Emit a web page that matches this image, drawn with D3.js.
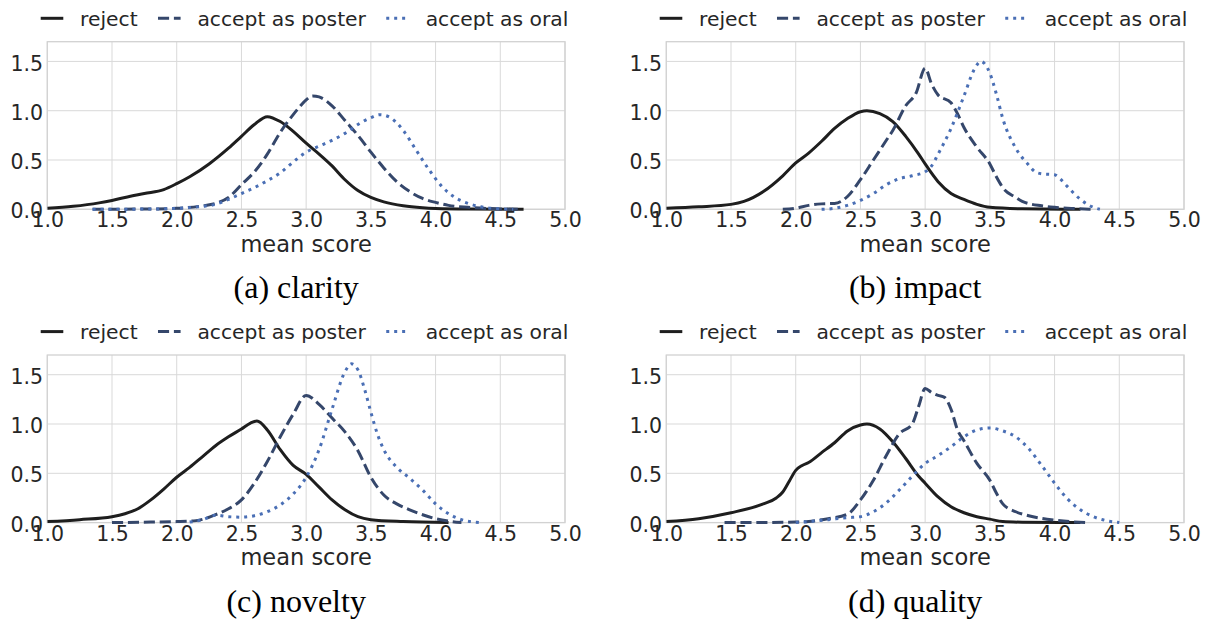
<!DOCTYPE html>
<html>
<head>
<meta charset="utf-8">
<script src="https://cdn.jsdelivr.net/npm/d3@7"></script>
<style>
  html, body { margin: 0; padding: 0; background: #ffffff; }
  svg { display: block; }
</style>
</head>
<body>
<svg id="fig" width="1208" height="622"></svg>
<script>
// ---- data: kernel density of mean review score per decision, for four aspects ----
const seriesNames = ["reject", "accept as poster", "accept as oral"];
const panelTitles = ["(a) clarity", "(b) impact", "(c) novelty", "(d) quality"];
const xTicks = [1.0, 1.5, 2.0, 2.5, 3.0, 3.5, 4.0, 4.5, 5.0];
const yTicks = [0.0, 0.5, 1.0, 1.5];
const xDomain = [1.0, 5.0];
const yDomain = [0, 1.7];

const clarityReject = [[1.0,0.01],[1.2,0.03],[1.4,0.065],[1.5,0.09],[1.6,0.12],[1.75,0.16],[1.9,0.2],[2.0,0.26],[2.1,0.33],[2.25,0.46],[2.4,0.62],[2.5,0.74],[2.6,0.86],[2.7,0.94],[2.8,0.89],[2.9,0.79],[3.0,0.67],[3.1,0.56],[3.2,0.44],[3.3,0.3],[3.4,0.19],[3.5,0.12],[3.6,0.075],[3.75,0.035],[3.9,0.015],[4.0,0.008],[4.25,0.002],[4.68,0]];
const clarityPoster = [[1.35,0],[1.7,0.002],[2.0,0.01],[2.2,0.035],[2.3,0.06],[2.4,0.12],[2.5,0.25],[2.6,0.38],[2.67,0.5],[2.7,0.56],[2.8,0.78],[2.9,0.96],[2.95,1.04],[3.0,1.11],[3.05,1.15],[3.1,1.14],[3.2,1.05],[3.3,0.9],[3.4,0.75],[3.5,0.58],[3.6,0.42],[3.7,0.28],[3.8,0.18],[3.9,0.11],[4.0,0.07],[4.1,0.04],[4.25,0.02],[4.5,0.004],[4.65,0]];
const clarityOral = [[1.35,0],[1.8,0.003],[2.0,0.01],[2.2,0.03],[2.3,0.05],[2.4,0.1],[2.5,0.16],[2.6,0.22],[2.7,0.29],[2.8,0.37],[2.9,0.48],[3.0,0.58],[3.1,0.64],[3.2,0.7],[3.3,0.77],[3.4,0.86],[3.5,0.93],[3.57,0.96],[3.65,0.93],[3.75,0.8],[3.85,0.6],[3.95,0.4],[4.05,0.23],[4.15,0.12],[4.25,0.06],[4.35,0.025],[4.5,0.005],[4.6,0]];

const impactReject = [[1.0,0.01],[1.25,0.025],[1.5,0.05],[1.6,0.08],[1.75,0.18],[1.9,0.34],[2.0,0.47],[2.1,0.57],[2.2,0.69],[2.3,0.82],[2.4,0.92],[2.5,0.99],[2.55,1.0],[2.65,0.97],[2.75,0.89],[2.85,0.74],[2.95,0.56],[3.0,0.46],[3.1,0.28],[3.2,0.16],[3.3,0.1],[3.4,0.05],[3.5,0.02],[3.75,0.005],[4.2,0]];
const impactPoster = [[1.9,0],[2.0,0.01],[2.1,0.04],[2.2,0.055],[2.3,0.06],[2.35,0.08],[2.4,0.13],[2.5,0.3],[2.6,0.5],[2.7,0.7],[2.75,0.8],[2.85,1.05],[2.93,1.18],[3.0,1.43],[3.05,1.27],[3.1,1.16],[3.2,1.08],[3.25,0.97],[3.3,0.83],[3.4,0.63],[3.5,0.46],[3.55,0.33],[3.6,0.22],[3.7,0.12],[3.75,0.08],[3.9,0.035],[4.0,0.02],[4.15,0.008],[4.3,0]];
const impactOral = [[2.2,0],[2.3,0.01],[2.4,0.04],[2.5,0.09],[2.6,0.16],[2.7,0.25],[2.8,0.31],[2.9,0.34],[3.0,0.38],[3.05,0.44],[3.1,0.56],[3.2,0.82],[3.3,1.15],[3.38,1.42],[3.43,1.5],[3.5,1.38],[3.55,1.17],[3.6,0.92],[3.7,0.62],[3.8,0.45],[3.85,0.38],[3.9,0.36],[4.0,0.35],[4.05,0.3],[4.1,0.23],[4.2,0.1],[4.3,0.02],[4.35,0]];

const noveltyReject = [[1.0,0.01],[1.25,0.03],[1.5,0.06],[1.6,0.09],[1.7,0.14],[1.8,0.23],[1.9,0.34],[2.0,0.46],[2.1,0.56],[2.2,0.67],[2.3,0.78],[2.4,0.87],[2.5,0.95],[2.57,1.01],[2.62,1.03],[2.7,0.94],[2.8,0.74],[2.9,0.58],[3.0,0.49],[3.1,0.36],[3.2,0.23],[3.3,0.13],[3.4,0.06],[3.5,0.03],[3.75,0.01],[4.1,0]];
const noveltyPoster = [[1.5,0],[1.8,0.005],[2.0,0.01],[2.15,0.02],[2.3,0.08],[2.4,0.14],[2.5,0.23],[2.6,0.4],[2.7,0.62],[2.8,0.87],[2.9,1.1],[3.0,1.29],[3.1,1.2],[3.2,1.06],[3.3,0.92],[3.4,0.73],[3.5,0.46],[3.6,0.28],[3.7,0.19],[3.8,0.13],[3.9,0.08],[4.0,0.04],[4.1,0.015],[4.2,0]];
const noveltyOral = [[2.1,0.005],[2.2,0.03],[2.3,0.075],[2.4,0.06],[2.5,0.055],[2.6,0.07],[2.7,0.11],[2.8,0.18],[2.9,0.29],[3.0,0.46],[3.1,0.74],[3.2,1.15],[3.3,1.53],[3.35,1.61],[3.4,1.55],[3.45,1.36],[3.5,1.12],[3.55,0.9],[3.6,0.74],[3.7,0.56],[3.8,0.45],[3.9,0.33],[4.0,0.19],[4.1,0.09],[4.2,0.03],[4.35,0]];

const qualityReject = [[1.0,0.01],[1.25,0.04],[1.5,0.1],[1.75,0.19],[1.85,0.25],[1.9,0.31],[1.95,0.42],[2.0,0.53],[2.05,0.58],[2.1,0.61],[2.2,0.71],[2.3,0.81],[2.4,0.93],[2.5,0.99],[2.55,1.0],[2.65,0.95],[2.75,0.82],[2.85,0.65],[2.95,0.47],[3.0,0.4],[3.1,0.26],[3.2,0.16],[3.3,0.1],[3.4,0.06],[3.5,0.035],[3.6,0.01],[3.75,0.004],[4.2,0]];
const qualityPoster = [[1.45,0],[1.8,0.002],[2.0,0.005],[2.1,0.012],[2.25,0.04],[2.4,0.085],[2.5,0.23],[2.6,0.43],[2.7,0.68],[2.8,0.9],[2.9,1.0],[2.95,1.18],[3.0,1.36],[3.05,1.32],[3.1,1.29],[3.15,1.27],[3.2,1.15],[3.25,0.94],[3.3,0.83],[3.4,0.6],[3.5,0.43],[3.55,0.3],[3.6,0.19],[3.7,0.11],[3.8,0.07],[4.0,0.025],[4.25,0]];
const qualityOral = [[2.0,0],[2.25,0.03],[2.4,0.05],[2.5,0.06],[2.6,0.11],[2.7,0.2],[2.8,0.33],[2.9,0.47],[3.0,0.6],[3.1,0.68],[3.2,0.77],[3.3,0.87],[3.4,0.94],[3.5,0.96],[3.6,0.93],[3.7,0.87],[3.8,0.75],[3.9,0.58],[4.0,0.4],[4.1,0.24],[4.2,0.13],[4.3,0.06],[4.4,0.02],[4.5,0]];

const panelSeries = [
  [clarityReject, clarityPoster, clarityOral],
  [impactReject, impactPoster, impactOral],
  [noveltyReject, noveltyPoster, noveltyOral],
  [qualityReject, qualityPoster, qualityOral]
];

// ---- styling ----
const TEXT = "#262626";
const GRID = "#d9d9d9";
const SPINE = "#d2d2d2";
const LW = 3;
const styles = [
  { color: "#1e1e1e", dash: null, cap: "butt" },
  { color: "#35476b", dash: [3.7 * LW, 1.6 * LW].join(","), cap: "butt" },
  { color: "#4a6fb5", dash: [1 * LW, 1.65 * LW].join(","), cap: "butt" }
];
const SANS = "DejaVu Sans, sans-serif";
const SERIF = "Liberation Serif, Times New Roman, serif";

// ---- layout of the 2x2 grid of axes ----
const plotW = 517.7, plotH = 167.6;
const cols = [47.3, 666.3];
const rows = [41.7, 355.0];

const svg = d3.select("#fig");
svg.append("rect").attr("width", 1208).attr("height", 622).attr("fill", "#ffffff");

panelTitles.forEach((title, i) => {
  const left = cols[i % 2], top = rows[Math.floor(i / 2)];
  const g = svg.append("g").attr("transform", `translate(${left},${top})`);
  const x = d3.scaleLinear().domain(xDomain).range([0, plotW]);
  const y = d3.scaleLinear().domain(yDomain).range([plotH, 0]);

  // grid lines
  g.append("g").selectAll("line").data(xTicks).join("line")
    .attr("x1", d => x(d)).attr("x2", d => x(d)).attr("y1", 0).attr("y2", plotH)
    .attr("stroke", GRID).attr("stroke-width", 1);
  g.append("g").selectAll("line").data(yTicks).join("line")
    .attr("x1", 0).attr("x2", plotW).attr("y1", d => y(d)).attr("y2", d => y(d))
    .attr("stroke", GRID).attr("stroke-width", 1);

  // frame
  g.append("rect").attr("x", 0).attr("y", 0).attr("width", plotW).attr("height", plotH)
    .attr("fill", "none").attr("stroke", SPINE).attr("stroke-width", 1.3);

  // tick labels via d3 axes (tick marks hidden)
  const xAxis = d3.axisBottom(x).tickValues(xTicks).tickFormat(d3.format(".1f")).tickSize(0).tickPadding(0);
  const gx = g.append("g").attr("transform", `translate(0,${plotH})`).call(xAxis);
  gx.select(".domain").remove();
  gx.selectAll("text").attr("y", 0).attr("dy", "18px")
    .attr("font-family", SANS).attr("font-size", 20.5).attr("fill", TEXT);

  const yAxis = d3.axisLeft(y).tickValues(yTicks).tickFormat(d3.format(".1f")).tickSize(0).tickPadding(4.2);
  const gy = g.append("g").call(yAxis);
  gy.select(".domain").remove();
  gy.selectAll("text").attr("dy", "8.6px")
    .attr("font-family", SANS).attr("font-size", 20.5).attr("fill", TEXT);

  // density curves
  const clipId = "clip" + i;
  g.append("clipPath").attr("id", clipId).append("rect")
    .attr("x", 0).attr("y", -5).attr("width", plotW).attr("height", plotH + 10);
  const line = d3.line().x(d => x(d[0])).y(d => y(d[1])).curve(d3.curveMonotoneX);
  const lines = g.append("g").attr("clip-path", `url(#${clipId})`);
  panelSeries[i].forEach((pts, s) => {
    lines.append("path").datum(pts).attr("d", line)
      .attr("fill", "none").attr("stroke", styles[s].color)
      .attr("stroke-width", LW).attr("stroke-linecap", styles[s].cap)
      .attr("stroke-linejoin", "round")
      .attr("stroke-dasharray", styles[s].dash);
  });

  // axis label
  g.append("text").attr("x", plotW / 2).attr("y", plotH + 42.5)
    .attr("text-anchor", "middle").attr("font-family", SANS).attr("font-size", 22.5)
    .attr("fill", TEXT).text("mean score");

  // legend above the axes
  const lg = g.append("g").attr("transform", `translate(-6.6,${-23.4})`);
  let cx = 0;
  seriesNames.forEach((name, s) => {
    lg.append("line").attr("x1", cx).attr("x2", cx + 22.6).attr("y1", 0).attr("y2", 0)
      .attr("stroke", styles[s].color).attr("stroke-width", LW)
      .attr("stroke-dasharray", styles[s].dash).attr("stroke-linecap", styles[s].cap);
    const t = lg.append("text").attr("x", cx + 22.6 + 16.8).attr("y", 7.2)
      .attr("font-family", SANS).attr("font-size", 20.3).attr("fill", TEXT).text(name);
    cx += 22.6 + 16.8 + t.node().getComputedTextLength() + 20.3;
  });

  // panel caption
  g.append("text").attr("x", plotW / 2 - 10).attr("y", plotH + 89)
    .attr("text-anchor", "middle").attr("font-family", SERIF).attr("font-size", 32)
    .attr("fill", "#000000").text(title);
});
</script>
</body>
</html>
